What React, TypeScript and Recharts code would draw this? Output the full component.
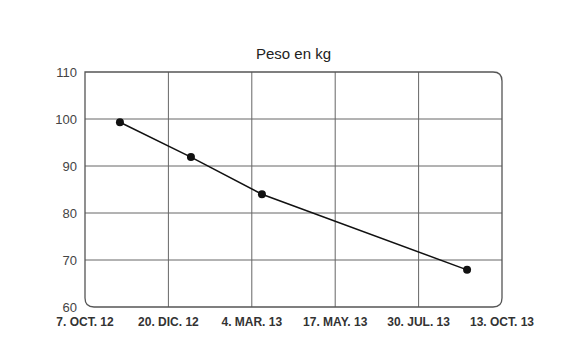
import { LineChart, Line, XAxis, YAxis, CartesianGrid, ReferenceArea } from 'recharts';

// days counted from 7. OCT. 12
const measureDays = [31, 94, 157, 339];
const weights = [99.3, 91.9, 84.0, 67.9];

const tickDays = [0, 74, 148, 222, 296, 370];
const tickLabels = ['7. OCT. 12', '20. DIC. 12', '4. MAR. 13', '17. MAY. 13', '30. JUL. 13', '13. OCT. 13'];
const weightTicks = [60, 70, 80, 90, 100, 110];

const data = measureDays.map((day, i) => ({ day, peso: weights[i] }));

const FONT = '"Liberation Sans", Arial, sans-serif';

// frame with rounded corners everywhere except top-left
const Frame = (props: any) => {
  const { x, y, width, height } = props;
  const r = 9;
  const d = [
    `M${x},${y}`,
    `L${x + width - r},${y}`,
    `Q${x + width},${y} ${x + width},${y + r}`,
    `L${x + width},${y + height - r}`,
    `Q${x + width},${y + height} ${x + width - r},${y + height}`,
    `L${x + r},${y + height}`,
    `Q${x},${y + height} ${x},${y + height - r}`,
    'Z',
  ].join(' ');
  return <path d={d} fill="none" stroke="#555" strokeWidth={1.3} />;
};

const App = () => {
  return (
    <div style={{ position: 'relative', width: 570, height: 360, margin: -8, background: '#fff' }}>
      <div
        style={{
          position: 'absolute',
          left: 85,
          width: 417,
          top: 45,
          textAlign: 'center',
          fontFamily: FONT,
          fontSize: 15,
          color: '#222',
        }}
      >
        Peso en kg
      </div>
      <LineChart width={570} height={360} data={data} margin={{ top: 72, right: 68, bottom: 23, left: 0 }}>
        <CartesianGrid
          stroke="#666"
          strokeWidth={1}
          horizontalValues={weightTicks.slice(1, -1)}
          verticalValues={tickDays.slice(1, -1)}
        />
        <XAxis
          type="number"
          dataKey="day"
          domain={[tickDays[0], tickDays[tickDays.length - 1]]}
          ticks={tickDays}
          tickFormatter={(v: number) => tickLabels[tickDays.indexOf(v)]}
          axisLine={false}
          tickLine={false}
          tickMargin={4}
          height={30}
          interval={0}
          tick={{ fontFamily: FONT, fontSize: 12, fontWeight: 'bold', fill: '#333' }}
        />
        <YAxis
          type="number"
          domain={[weightTicks[0], weightTicks[weightTicks.length - 1]]}
          ticks={weightTicks}
          axisLine={false}
          tickLine={false}
          width={85}
          interval={0}
          tick={{ fontFamily: FONT, fontSize: 13, fill: '#444' }}
        />
        <ReferenceArea
          x1={tickDays[0]}
          x2={tickDays[tickDays.length - 1]}
          y1={weightTicks[0]}
          y2={weightTicks[weightTicks.length - 1]}
          shape={Frame}
        />
        <Line
          type="linear"
          dataKey="peso"
          stroke="#111"
          strokeWidth={1.5}
          dot={{ r: 4, fill: '#111', stroke: 'none' }}
          isAnimationActive={false}
        />
      </LineChart>
    </div>
  );
};

export default App;
